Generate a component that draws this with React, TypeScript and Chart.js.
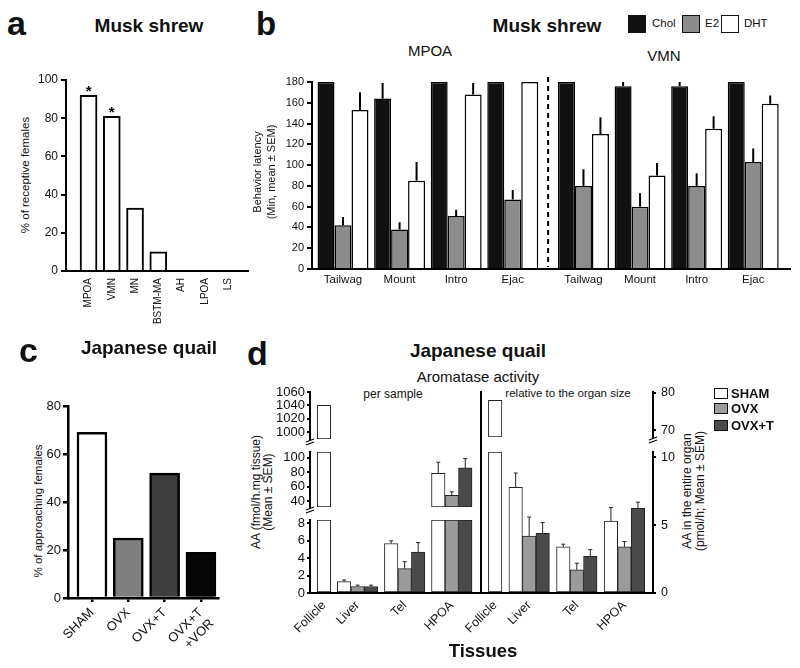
import React, { useEffect, useRef } from 'react';
import { Chart, registerables } from 'chart.js';

Chart.register(...registerables);

const FONT = '"Liberation Sans", Arial, Helvetica, sans-serif';
Chart.defaults.font.family = FONT;
Chart.defaults.color = '#111';

// ---------------- Panel a: Musk shrew, % receptive females ----------------
const aRegions = ['MPOA', 'VMN', 'MN', 'BSTM-MA', 'AH', 'LPOA', 'LS'];
const aReceptive = [92, 81, 33, 10, 0, 0, 0];
const aSignificant = [true, true, false, false, false, false, false];
const aTicks = [0, 20, 40, 60, 80, 100];

// ---------------- Panel b: Musk shrew, behaviour latency ----------------
const bRegions = ['MPOA', 'VMN'];
const bBehaviors = ['Tailwag', 'Mount', 'Intro', 'Ejac'];
const bTreatments = ['Chol', 'E2', 'DHT'];
// order: MPOA Tailwag, Mount, Intro, Ejac, VMN Tailwag, Mount, Intro, Ejac
const bChol = [180, 164, 180, 180, 180, 176, 176, 180];
const bCholSem = [0, 15, 0, 0, 0, 4, 4, 0];
const bE2 = [42, 38, 51, 67, 80, 60, 80, 103];
const bE2Sem = [8, 7, 6, 9, 16, 13, 12, 13];
const bDHT = [153, 85, 168, 180, 130, 90, 135, 159];
const bDHTSem = [17, 18, 11, 0, 16, 12, 12, 8];
const bTicks = [0, 20, 40, 60, 80, 100, 120, 140, 160, 180];

// ---------------- Panel c: Japanese quail, % approaching ----------------
const cGroups: (string | string[])[] = ['SHAM', 'OVX', 'OVX+T', ['OVX+T', '+VOR']];
const cApproaching = [69, 25, 52, 19];
const cTicks = [0, 20, 40, 60, 80];

// ---------------- Panel d: Japanese quail, aromatase activity ----------------
const dTissues = ['Follicle', 'Liver', 'Tel', 'HPOA'];
const dGroups = ['SHAM', 'OVX', 'OVX+T'];
// per sample (fmol/h.mg tissue)
const dSampleSham = [1040, 1.3, 5.7, 78.5];
const dSampleShamSem = [0, 0.2, 0.3, 15.3];
const dSampleOvx = [null, 0.75, 2.8, 48];
const dSampleOvxSem = [null, 0.15, 0.8, 5];
const dSampleOvxT = [null, 0.75, 4.7, 86];
const dSampleOvxTSem = [null, 0.15, 1.1, 13];
// relative to organ size (pmol/h)
const dOrganSham = [78, 7.8, 3.4, 5.3];
const dOrganShamSem = [0, 1.05, 0.2, 1.0];
const dOrganOvx = [null, 4.2, 1.7, 3.4];
const dOrganOvxSem = [null, 1.4, 0.5, 0.4];
const dOrganOvxT = [null, 4.4, 2.7, 6.25];
const dOrganOvxTSem = [null, 0.8, 0.5, 0.45];
const dLeftTicksTop = [1000, 1020, 1040, 1060];
const dLeftTicksMid = [40, 60, 80, 100];
const dLeftTicksLow = [0, 2, 4, 6, 8];
const dRightTicksTop = [70, 80];
const dRightTicksLow = [0, 5, 10];

// ---------------- derived positions (layout) ----------------
const aPos = aRegions.map((_, i) => i);
const bPos = bRegions.flatMap((_, r) => bBehaviors.map((_, j) => r * (bBehaviors.length + 0.25) + j));
const bLabels = bRegions.flatMap(() => bBehaviors);
const cPos = cGroups.map((_, i) => i);
const dSampleVals = [dSampleSham, dSampleOvx, dSampleOvxT];
const dSampleErrs = [dSampleShamSem, dSampleOvxSem, dSampleOvxTSem];
const dOrganVals = [dOrganSham, dOrganOvx, dOrganOvxT];
const dOrganErrs = [dOrganShamSem, dOrganOvxSem, dOrganOvxTSem];
const dPos: number[] = (() => {
  const out: number[] = [];
  let acc = 0;
  dTissues.forEach((_, i) => {
    const n = dSampleVals.filter((s) => s[i] != null).length;
    out.push(acc + (n + 0.5) / 2);
    acc += n + 0.5;
  });
  return out;
})();

const bColors = ['#111111', '#8c8c8c', '#ffffff'];
const cColors = ['#ffffff', '#7f7f7f', '#3f3f3f', '#050505'];
const dColors = ['#ffffff', '#9b9b9b', '#4a4a4a'];

type Margins = { l: number; t: number; r: number; b: number };
type Area = { L: number; T: number; R: number; B: number };

// ---------------- plugins ----------------
const errorBars = {
  id: 'errorBars',
  afterDatasetsDraw(chart: any, _a: any, opts: any) {
    const { ctx } = chart;
    const ys = chart.scales.y;
    chart.data.datasets.forEach((ds: any, di: number) => {
      if (!ds.errs) return;
      const meta = chart.getDatasetMeta(di);
      ds.errs.forEach((e: number | null, i: number) => {
        const v = ds.vals[i];
        if (v == null || !e || v < ys.min || v > ys.max) return;
        const el = meta.data[i];
        if (!el) return;
        const y0 = ys.getPixelForValue(v);
        const y1 = ys.getPixelForValue(Math.min(v + e, ys.max));
        ctx.save();
        ctx.strokeStyle = opts.color || '#000';
        ctx.lineWidth = opts.width || 1;
        ctx.beginPath();
        ctx.moveTo(el.x, y0);
        ctx.lineTo(el.x, y1);
        if (opts.cap) {
          ctx.moveTo(el.x - opts.cap / 2, y1);
          ctx.lineTo(el.x + opts.cap / 2, y1);
        }
        ctx.stroke();
        ctx.restore();
      });
    });
  },
};

const stars = {
  id: 'stars',
  afterDatasetsDraw(chart: any, _a: any, opts: any) {
    const { ctx } = chart;
    const ds: any = chart.data.datasets[0];
    const meta = chart.getDatasetMeta(0);
    ctx.save();
    ctx.fillStyle = '#000';
    ctx.font = `bold ${opts.size || 15}px ${FONT}`;
    ctx.textAlign = 'center';
    ctx.textBaseline = 'alphabetic';
    (ds.sig || []).forEach((s: boolean, i: number) => {
      if (!s) return;
      const el = meta.data[i];
      ctx.fillText('*', el.x, el.y + 1);
    });
    ctx.restore();
  },
};

const divider = {
  id: 'divider',
  afterDraw(chart: any, _a: any, opts: any) {
    if (opts.at == null) return;
    const { ctx, chartArea } = chart;
    const x = chart.scales.x.getPixelForValue(opts.at);
    ctx.save();
    ctx.strokeStyle = '#000';
    ctx.lineWidth = 2;
    ctx.setLineDash([5, 4]);
    ctx.beginPath();
    ctx.moveTo(x, chartArea.top - 5);
    ctx.lineTo(x, chartArea.bottom - 2);
    ctx.stroke();
    ctx.restore();
  },
};

const breakMark = {
  id: 'breakMark',
  afterDraw(chart: any, _a: any, opts: any) {
    if (!opts.on) return;
    const { ctx, chartArea } = chart;
    const x = opts.side === 'right' ? chartArea.right : chartArea.left;
    const y = chartArea.bottom + 1;
    ctx.save();
    ctx.strokeStyle = '#000';
    ctx.lineWidth = 1.3;
    ctx.beginPath();
    ctx.moveTo(x - 4, y + 2);
    ctx.lineTo(x + 4, y - 1);
    ctx.moveTo(x - 4, y + 5);
    ctx.lineTo(x + 4, y + 2);
    ctx.stroke();
    ctx.restore();
  },
};

// ---------------- generic options ----------------
function axesOptions(o: {
  m: Margins;
  axisW: number;
  x: { min: number; max: number; pos: number[]; labels: any[]; rot: number; font: number; tick: number; pad: number; show: boolean };
  y: { min: number; max: number; ticks: number[]; font: number; tick: number; pad: number; side: 'left' | 'right' };
  plugins?: any;
}) {
  const { m, x, y, axisW } = o;
  const zeroPad = (s: any) => {
    s.paddingLeft = 0;
    s.paddingRight = 0;
    s.paddingTop = 0;
    s.paddingBottom = 0;
  };
  return {
    responsive: true,
    maintainAspectRatio: false,
    animation: false,
    events: [],
    layout: {
      padding: {
        left: y.side === 'left' ? 0 : m.l,
        right: y.side === 'right' ? 0 : m.r,
        top: m.t,
        bottom: x.show ? 0 : m.b,
      },
    },
    plugins: { legend: { display: false }, tooltip: { enabled: false }, ...(o.plugins || {}) },
    scales: {
      x: {
        type: 'linear',
        display: x.show,
        min: x.min,
        max: x.max,
        offset: false,
        grid: { display: true, offset: false, drawOnChartArea: false, drawTicks: x.tick > 0, tickLength: x.tick, color: '#000', lineWidth: axisW },
        border: { display: true, color: '#000', width: axisW },
        ticks: {
          autoSkip: false,
          maxRotation: x.rot,
          minRotation: x.rot,
          padding: x.pad,
          color: '#111',
          font: { size: x.font },
          callback: (_v: any, i: number) => x.labels[i],
        },
        afterBuildTicks: (s: any) => {
          s.ticks = x.pos.map((v) => ({ value: v }));
        },
        afterFit: (s: any) => {
          s.height = m.b;
          zeroPad(s);
        },
      },
      y: {
        type: 'linear',
        position: y.side,
        min: y.min,
        max: y.max,
        grid: { display: true, drawOnChartArea: false, drawTicks: true, tickLength: y.tick, color: '#000', lineWidth: axisW },
        border: { display: true, color: '#000', width: axisW },
        ticks: { padding: y.pad, color: '#111', font: { size: y.font }, autoSkip: false, callback: (v: any) => String(v) },
        afterBuildTicks: (s: any) => {
          s.ticks = y.ticks.map((v) => ({ value: v }));
        },
        afterFit: (s: any) => {
          s.width = y.side === 'left' ? m.l : m.r;
          zeroPad(s);
        },
      },
    },
  };
}

// ---------------- components ----------------
function ChartBox({ area, m, build }: { area: Area; m: Margins; build: (m: Margins) => any }) {
  const ref = useRef<HTMLCanvasElement>(null);
  useEffect(() => {
    const chart = new Chart(ref.current as HTMLCanvasElement, build(m));
    return () => chart.destroy();
  }, []);
  const w = area.R - area.L + m.l + m.r;
  const h = area.B - area.T + m.t + m.b;
  return (
    <div style={{ position: 'absolute', left: area.L - m.l, top: area.T - m.t, width: w, height: h }}>
      <canvas ref={ref} />
    </div>
  );
}

function T({ x, base, s, bold, anchor = 'start', children }: any) {
  const tx = anchor === 'middle' ? 'translateX(-50%)' : anchor === 'end' ? 'translateX(-100%)' : 'none';
  return (
    <div
      style={{
        position: 'absolute',
        left: x,
        top: base - 0.8465 * s,
        fontSize: s,
        lineHeight: `${s}px`,
        fontWeight: bold ? 700 : 400,
        whiteSpace: 'nowrap',
        transform: tx,
      }}
    >
      {children}
    </div>
  );
}

function VT({ cx, cy, s, lh, lines }: { cx: number; cy: number; s: number; lh: number; lines: string[] }) {
  return (
    <div
      style={{
        position: 'absolute',
        left: cx,
        top: cy,
        fontSize: s,
        lineHeight: `${lh}px`,
        whiteSpace: 'nowrap',
        textAlign: 'center',
        transform: 'translate(-50%, -50%) rotate(-90deg)',
      }}
    >
      {lines.map((l, i) => (
        <div key={i}>{l}</div>
      ))}
    </div>
  );
}

function Swatch({ x, y, w, h, color, bw = 1.5 }: any) {
  return (
    <div
      style={{
        position: 'absolute',
        left: x,
        top: y,
        width: w,
        height: h,
        background: color,
        border: `${bw}px solid #111`,
        boxSizing: 'border-box',
      }}
    />
  );
}

// ---------------- configs ----------------
const aConfig = (m: Margins) => ({
  type: 'bar',
  data: {
    datasets: [
      {
        data: aPos.map((x, i) => ({ x, y: aReceptive[i] })),
        backgroundColor: '#ffffff',
        borderColor: '#000',
        borderWidth: 2,
        barThickness: 17,
        sig: aSignificant,
      },
    ],
  },
  options: axesOptions({
    m,
    axisW: 2,
    x: { min: -0.97, max: 6.86, pos: aPos, labels: aRegions, rot: 90, font: 10, tick: 0, pad: 7, show: true },
    y: { min: 0, max: 100, ticks: aTicks, font: 12, tick: 5, pad: 3, side: 'left' },
    plugins: { stars: { size: 15 } },
  }),
  plugins: [stars],
});

const bSeries = [bChol, bE2, bDHT];
const bSems = [bCholSem, bE2Sem, bDHTSem];
const bConfig = (m: Margins) => ({
  type: 'bar',
  data: {
    datasets: bTreatments.map((t, k) => ({
      label: t,
      data: bPos.map((x, i) => ({ x, y: bSeries[k][i] })),
      vals: bSeries[k],
      errs: bSems[k],
      backgroundColor: bColors[k],
      borderColor: '#000',
      borderWidth: 1.5,
      categoryPercentage: 0.9,
      barPercentage: 1,
    })),
  },
  options: axesOptions({
    m,
    axisW: 2,
    x: { min: -0.548, max: 7.9, pos: bPos, labels: bLabels, rot: 0, font: 11.5, tick: 0, pad: 4, show: true },
    y: { min: 0, max: 180, ticks: bTicks, font: 11, tick: 5, pad: 3, side: 'left' },
    plugins: {
      errorBars: { color: '#000', width: 2 },
      divider: { at: (bPos[bBehaviors.length - 1] + bPos[bBehaviors.length]) / 2 },
    },
  }),
  plugins: [errorBars, divider],
});

const cConfig = (m: Margins) => ({
  type: 'bar',
  data: {
    datasets: [
      {
        data: cPos.map((x, i) => ({ x, y: cApproaching[i] })),
        backgroundColor: cColors,
        borderColor: '#000',
        borderWidth: 2.5,
        barThickness: 30,
      },
    ],
  },
  options: axesOptions({
    m,
    axisW: 2.5,
    x: { min: -0.66, max: 3.47, pos: cPos, labels: cGroups, rot: 45, font: 13, tick: 4, pad: 3, show: true },
    y: { min: 0, max: 80, ticks: cTicks, font: 13, tick: 5, pad: 2, side: 'left' },
  }),
  plugins: [],
});

type Seg = { lo: number; hi: number; ticks: number[]; T: number; B: number };
const dLeftSegs: Seg[] = [
  { lo: 990, hi: 1060, ticks: dLeftTicksTop, T: 392, B: 449 },
  { lo: 32, hi: 108, ticks: dLeftTicksMid, T: 452, B: 517 },
  { lo: 0, hi: 8.4, ticks: dLeftTicksLow, T: 520, B: 593 },
];
const dRightSegs: Seg[] = [
  { lo: 68.2, hi: 80.2, ticks: dRightTicksTop, T: 392, B: 447 },
  { lo: 0, hi: 10.4, ticks: dRightTicksLow, T: 452, B: 593 },
];

const dConfig = (side: 'left' | 'right', seg: Seg, last: boolean, vals: (number | null)[][], errs: (number | null)[][]) => (m: Margins) => ({
  type: 'bar',
  data: {
    datasets: dGroups.map((g, k) => ({
      label: g,
      data: dPos.map((x, i) => {
        const v = vals[k][i];
        return { x, y: v == null || v < seg.lo ? null : [seg.lo, Math.min(v, seg.hi)] };
      }),
      vals: vals[k],
      errs: errs[k],
      backgroundColor: dColors[k],
      borderColor: '#222',
      borderWidth: 1,
      borderSkipped: false,
      barThickness: 13.5,
      skipNull: true,
    })),
  },
  options: axesOptions({
    m,
    axisW: 2,
    x: { min: -0.29, max: 12.35, pos: dPos, labels: dTissues, rot: 45, font: 12.5, tick: 0, pad: 5, show: last },
    y: { min: seg.lo, max: seg.hi, ticks: seg.ticks, font: side === 'left' ? 13 : 12.5, tick: 3, pad: side === 'left' ? 2 : 5, side },
    plugins: {
      errorBars: { color: '#222', width: 1, cap: 4 },
      breakMark: { on: !last, side },
    },
  }),
  plugins: [errorBars, breakMark],
});

// ---------------- App ----------------
export default function App() {
  const bLegendX = [628, 682, 721];
  const bLegendTextX = [652, 705, 744];
  const dLegendY = [388, 403, 420];
  return (
    <div
      style={{
        position: 'absolute',
        left: 0,
        top: 0,
        width: 800,
        height: 668,
        background: '#fff',
        overflow: 'hidden',
        fontFamily: FONT,
        color: '#111',
      }}
    >
      {/* Panel a */}
      <T x={7} base={35} s={34} bold>a</T>
      <T x={149} base={32} s={19} bold anchor="middle">Musk shrew</T>
      <VT cx={25} cy={175} s={11.5} lh={14} lines={['% of receptive females']} />
      <ChartBox area={{ L: 66, T: 80, R: 248, B: 271 }} m={{ l: 40, t: 12, r: 6, b: 62 }} build={aConfig} />

      {/* Panel b */}
      <T x={256} base={35} s={33} bold>b</T>
      <T x={547} base={32} s={19} bold anchor="middle">Musk shrew</T>
      {bTreatments.map((t, k) => (
        <React.Fragment key={t}>
          <Swatch x={bLegendX[k]} y={15} w={18} h={18} color={bColors[k]} />
          <T x={bLegendTextX[k]} base={28} s={11.5}>{t}</T>
        </React.Fragment>
      ))}
      <T x={430} base={55.5} s={15} anchor="middle">{bRegions[0]}</T>
      <T x={664} base={60.5} s={15} anchor="middle">{bRegions[1]}</T>
      <VT cx={264} cy={172} s={11} lh={14} lines={['Behavior latency', '(Min, mean ± SEM)']} />
      <ChartBox area={{ L: 312, T: 82, R: 790, B: 269 }} m={{ l: 36, t: 10, r: 6, b: 24 }} build={bConfig} />

      {/* Panel c */}
      <T x={19} base={362} s={34} bold>c</T>
      <T x={149} base={354} s={19} bold anchor="middle">Japanese quail</T>
      <VT cx={38} cy={511} s={11.5} lh={14} lines={['% of approaching females']} />
      <ChartBox area={{ L: 68, T: 406, R: 218, B: 598 }} m={{ l: 38, t: 8, r: 6, b: 62 }} build={cConfig} />

      {/* Panel d */}
      <T x={247} base={365} s={34} bold>d</T>
      <T x={478} base={357} s={19} bold anchor="middle">Japanese quail</T>
      <T x={478} base={382} s={15} anchor="middle">Aromatase activity</T>
      <T x={393} base={398} s={12} anchor="middle">per sample</T>
      <T x={568} base={398} s={11.5} anchor="middle">relative to the organ size</T>
      <VT cx={262} cy={492} s={12} lh={12} lines={['AA (fmol/h.mg tissue)', '(Mean ± SEM)']} />
      <VT cx={694} cy={491} s={12} lh={13} lines={['AA in the entire organ', '(pmol/h; Mean ± SEM)']} />
      {dLeftSegs.map((s, k) => (
        <ChartBox
          key={'dl' + k}
          area={{ L: 310, R: 480, T: s.T, B: s.B }}
          m={{ l: 42, t: 8, r: 2, b: k === dLeftSegs.length - 1 ? 52 : 10 }}
          build={dConfig('left', s, k === dLeftSegs.length - 1, dSampleVals, dSampleErrs)}
        />
      ))}
      {dRightSegs.map((s, k) => (
        <ChartBox
          key={'dr' + k}
          area={{ L: 481, R: 653, T: s.T, B: s.B }}
          m={{ l: 45, t: 8, r: 32, b: k === dRightSegs.length - 1 ? 52 : 10 }}
          build={dConfig('right', s, k === dRightSegs.length - 1, dOrganVals, dOrganErrs)}
        />
      ))}
      <div style={{ position: 'absolute', left: 479.5, top: 391, width: 2, height: 203, background: '#000' }} />
      {dGroups.map((g, k) => (
        <React.Fragment key={g}>
          <Swatch x={714} y={dLegendY[k]} w={14} h={11} color={dColors[k]} bw={1} />
          <T x={731} base={dLegendY[k] + 10} s={13} bold>{g}</T>
        </React.Fragment>
      ))}
      <T x={483} base={658} s={18.5} bold anchor="middle">Tissues</T>
    </div>
  );
}
